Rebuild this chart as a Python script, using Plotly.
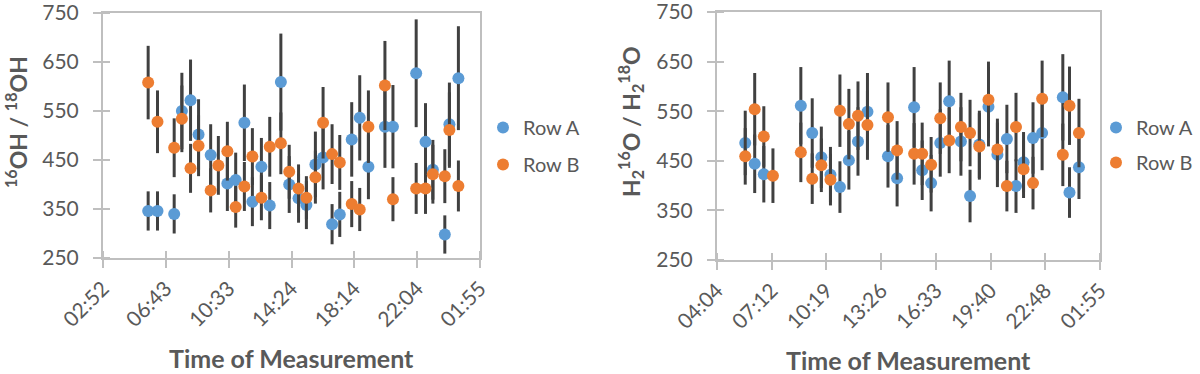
"""
Cocientes isotópicos por hora de medición, dos paneles (Row A / Row B)
"""

import plotly.graph_objects as go

# ---- Panel 1: 16OH / 18OH ----
horas_1 = [5.64, 6.21, 7.23, 7.70, 8.23, 8.72, 9.46, 9.93, 10.48, 10.99, 11.52,
           12.01, 12.56, 13.07, 13.75, 14.26, 14.83, 15.31, 15.86, 16.33, 16.88,
           17.35, 18.08, 18.57, 19.10, 20.11, 20.60, 22.02, 22.59, 23.04, 23.77,
           24.05, 24.60]
fila_a_1 = [346, 346, 340, 550, 572, 502, 460, None, 402, 409, 526,
            365, 436, 357, 609, 400, 372, 358, 441, 455, 319,
            339, 492, 536, 436, 518, 518, 627, 487, 430, 298,
            523, 617]
err_a_1 = [40, 40, 40, 78, 83, 72, 63, 0, 56, 56, 78,
           50, 59, 48, 99, 58, 50, 49, 67, 65, 41,
           46, 76, 87, 66, 84, 85, 110, 79, 61, 39,
           85, 106]
fila_b_1 = [608, 528, 475, 534, 433, 479, 388, 439, 468, 354, 396,
            457, 373, 477, 484, 426, 392, 373, 415, 526, 462,
            445, 360, 349, 518, 602, 370, 392, 392, 421, 417,
            511, 397]
err_b_1 = [75, 64, 60, 68, 50, 62, 45, 60, 60, 42, 50,
           58, 46, 61, 63, 55, 49, 44, 54, 73, 61,
           56, 47, 44, 74, 91, 45, 52, 52, 60, 55,
           77, 52]
ticks_h_1 = [2.88, 6.72, 10.56, 14.40, 18.24, 22.08, 25.92]
ticks_txt_1 = ["02:52", "06:43", "10:33", "14:24", "18:14", "22:04", "01:55"]

# ---- Panel 2: H2 16O / H2 18O ----
horas_2 = [5.69, 6.23, 6.75, 7.27, 8.86, 9.51, 10.03, 10.55, 11.09, 11.60,
           12.12, 12.66, 13.83, 14.35, 15.32, 15.78, 16.29, 16.81, 17.32,
           17.99, 18.51, 19.04, 19.56, 20.07, 20.61, 21.13, 21.56, 22.10,
           22.62, 23.80, 24.18, 24.72]
fila_a_2 = [486, 444, 423, None, 561, 506, 457, 422, 397, 451,
            489, 549, 459, 415, 558, 431, 405, 486, 570,
            489, 379, 483, 559, 462, 494, 399, 447, 496,
            506, 578, 386, 437]
err_a_2 = [65, 59, 57, 0, 78, 70, 62, 56, 52, 59,
           69, 78, 63, 57, 81, 60, 57, 68, 82,
           69, 53, 68, 80, 65, 69, 54, 61, 72,
           75, 87, 51, 64]
fila_b_2 = [459, 554, 499, 420, 467, 414, 441, 412, 551, 524,
            541, 522, 538, 471, 464, 464, 442, 536, 491,
            518, 506, 479, 573, 473, 399, 518, 433, 405,
            575, 462, 561, 506]
err_b_2 = [57, 73, 61, 55, 60, 51, 54, 52, 73, 71,
           69, 70, 70, 59, 62, 63, 56, 72, 66,
           69, 67, 67, 77, 62, 51, 69, 58, 53,
           77, 63, 79, 69]
ticks_h_2 = [4.08, 7.20, 10.32, 13.44, 16.56, 19.68, 22.80, 25.92]
ticks_txt_2 = ["04:04", "07:12", "10:19", "13:26", "16:33", "19:40", "22:48", "01:55"]

azul = "#5B9BD5"
naranja = "#ED7D31"
gris_texto = "#595959"
gris_eje = "#BFBFBF"
fuente = "Lato, 'Open Sans', sans-serif"

fig = go.Figure()

paneles = [
    (horas_1, fila_a_1, err_a_1, fila_b_1, err_b_1, "x", "y", "legend"),
    (horas_2, fila_a_2, err_a_2, fila_b_2, err_b_2, "x2", "y2", "legend2"),
]
for horas, fa, ea, fb, eb, xa, ya, leg in paneles:
    for nombre, vals, errs, color in [("Row A", fa, ea, azul), ("Row B", fb, eb, naranja)]:
        fig.add_trace(go.Scatter(
            x=horas, y=vals, mode="markers", name=nombre,
            xaxis=xa, yaxis=ya, legend=leg, legendgroup=nombre,
            marker=dict(color=color, size=12),
            error_y=dict(type="data", array=errs, visible=True,
                         color="#404040", thickness=3, width=0),
        ))

ejes_y = dict(
    range=[250, 750], tickvals=[250, 350, 450, 550, 650, 750], automargin=False,
    showgrid=False, zeroline=False, showline=True, linecolor=gris_eje, linewidth=2,
    mirror=True, ticks="outside", ticklen=8, tickwidth=2, tickcolor=gris_eje,
    minor=dict(ticks="inside", tick0=250, dtick=100, ticklen=7, tickwidth=2, tickcolor=gris_eje),
    tickfont=dict(size=21, color=gris_texto, family=fuente), ticklabeloverflow="allow",
    ticklabelstandoff=10,
)
ejes_x = dict(
    showgrid=False, zeroline=False, showline=True, linecolor=gris_eje, linewidth=2,
    mirror=True, ticks="outside", ticklen=8, tickwidth=2, tickcolor=gris_eje,
    automargin=False, tickangle=-45, ticklabeloverflow="allow",
    tickfont=dict(size=21, color=gris_texto, family=fuente),
)

fig.update_layout(
    width=1200, height=374,
    margin=dict(l=0, r=0, t=0, b=0, autoexpand=False),
    paper_bgcolor="white", plot_bgcolor="white",
    font=dict(family=fuente, color=gris_texto),
    xaxis=dict(domain=[103 / 1200, 480 / 1200], range=[2.88, 25.92],
               tickvals=ticks_h_1, ticktext=ticks_txt_1,
               minor=dict(ticks="inside", tick0=2.88, dtick=3.84, ticklen=7,
                          tickwidth=2, tickcolor=gris_eje),
               anchor="y", **ejes_x),
    yaxis=dict(domain=[1 - 258 / 374, 1 - 13 / 374], anchor="x", **ejes_y),
    xaxis2=dict(domain=[717 / 1200, 1100 / 1200], range=[4.08, 25.92],
                tickvals=ticks_h_2, ticktext=ticks_txt_2,
                minor=dict(ticks="inside", tick0=4.08, dtick=3.12, ticklen=7,
                           tickwidth=2, tickcolor=gris_eje),
                anchor="y2", **ejes_x),
    yaxis2=dict(domain=[1 - 260 / 374, 1 - 12 / 374], anchor="x2", **ejes_y),
    legend=dict(x=483 / 1200, y=1 - 108 / 374, xanchor="left", yanchor="top",
                font=dict(size=20, color=gris_texto), tracegroupgap=8,
                bgcolor="rgba(0,0,0,0)"),
    legend2=dict(x=1096 / 1200, y=1 - 108 / 374, xanchor="left", yanchor="top",
                 font=dict(size=20, color=gris_texto), tracegroupgap=6,
                 bgcolor="rgba(0,0,0,0)"),
    showlegend=True,
)

# Títulos de ejes
titulos = [
    ("Time of Measurement", 291 / 1200, 1 - 358 / 374, 0, 25),
    ("Time of Measurement", 908 / 1200, 1 - 360 / 374, 0, 25),
    ("<sup>16</sup>OH / <sup>18</sup>OH", 17 / 1200, 1 - 122 / 374, -90, 23),
    ("H<sub>2</sub><sup>16</sup>O / H<sub>2</sub><sup>18</sup>O", 631 / 1200, 1 - 122 / 374, -90, 23),
]
for texto, xp, yp, ang, tam in titulos:
    fig.add_annotation(text=f"<b>{texto}</b>", x=xp, y=yp, xref="paper", yref="paper",
                       xanchor="center", yanchor="middle", showarrow=False,
                       textangle=ang, font=dict(size=tam, color=gris_texto, family=fuente))

# quitar el margen del <body> para que la figura ocupe la ventana exacta
fig.write_html("out.html", config={"displayModeBar": False},
               post_script="document.body.style.margin='0';")
